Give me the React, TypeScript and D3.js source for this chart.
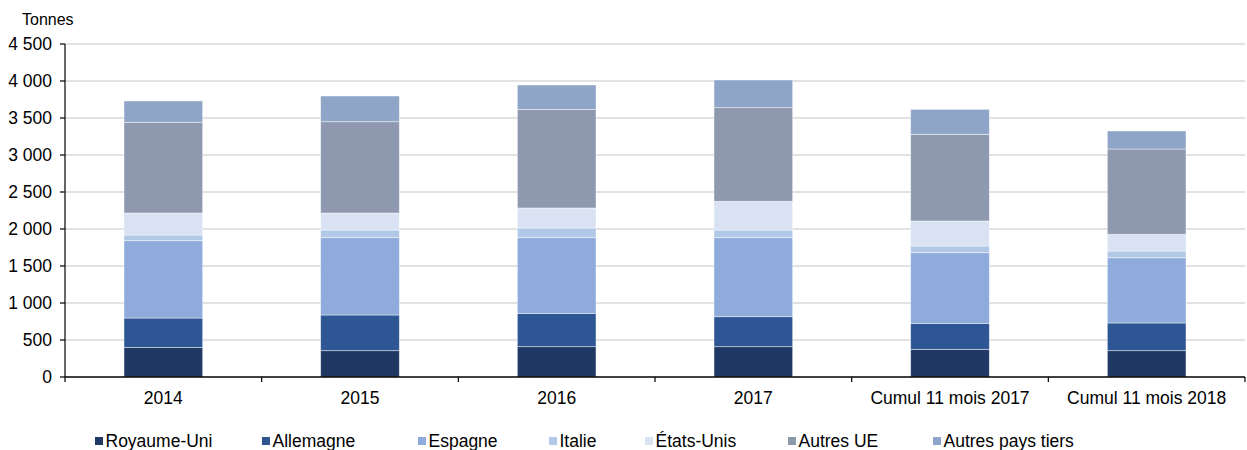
import React from "react";
import * as d3 from "d3";

// Export volumes by destination, in tonnes
const categories = ["2014", "2015", "2016", "2017", "Cumul 11 mois 2017", "Cumul 11 mois 2018"];
const seriesNames = ["Royaume-Uni", "Allemagne", "Espagne", "Italie", "États-Unis", "Autres UE", "Autres pays tiers"];
const royaumeUni = [400, 356, 410, 410, 374, 356];
const allemagne = [397, 482, 450, 405, 351, 374];
const espagne = [1045, 1045, 1023, 1068, 955, 882];
const italie = [77, 103, 131, 103, 90, 91];
const etatsUnis = [297, 230, 270, 388, 338, 225];
const autresUE = [1226, 1234, 1333, 1266, 1171, 1153];
const autresPaysTiers = [288, 347, 329, 374, 338, 243];
const yTicks = [0, 500, 1000, 1500, 2000, 2500, 3000, 3500, 4000, 4500];
const colors = ["#203864", "#2E5594", "#8EABDC", "#B2C8E7", "#D9E2F3", "#8E99B0", "#8EA5C8"];
const legendX = [95, 262, 418, 549, 645, 788, 933];

const W = 1247;
const H = 450;
const left = 65;
const right = 1245;
const top = 44;
const bottom = 377;
const font = "'Liberation Sans', Arial, sans-serif";
const fs = 17.5;

export default function App() {
  const seriesValues = [royaumeUni, allemagne, espagne, italie, etatsUnis, autresUE, autresPaysTiers];
  const rows = categories.map((c, i) => {
    const r: Record<string, number | string> = { cat: c };
    seriesNames.forEach((s, k) => (r[s] = seriesValues[k][i]));
    return r;
  });
  const stacked = d3.stack<any>().keys(seriesNames)(rows as any);

  const x = d3.scaleBand<string>().domain(categories).range([left, right]).paddingInner(0.6).paddingOuter(0.3);
  const xOuter = d3.scaleBand<string>().domain(categories).range([left, right]);
  const y = d3.scaleLinear().domain([0, 4500]).range([bottom, top]);
  const fmt = (v: number) => d3.format(",")(v).replace(/,/g, " ");

  return (
    <svg width={W} height={H} style={{ position: "absolute", left: 0, top: 0, background: "#fff" }} fontFamily={font}>
      <text x={22} y={25} fontSize={16} fill="#000">Tonnes</text>

      {yTicks.filter((t) => t > 0).map((t) => (
        <line key={"g" + t} x1={left} x2={right} y1={y(t)} y2={y(t)} stroke="#d9d9d9" strokeWidth={1.5} />
      ))}

      {stacked.map((layer, k) => (
        <g key={layer.key} fill={colors[k]}>
          {layer.map((d, i) => (
            <rect
              key={i}
              x={x(categories[i])}
              width={x.bandwidth()}
              y={y(d[1])}
              height={y(d[0]) - y(d[1])}
              stroke="#ffffff"
              strokeOpacity={0.55}
              strokeWidth={0.8}
            />
          ))}
        </g>
      ))}

      {/* y axis */}
      <line x1={left} x2={left} y1={top} y2={bottom} stroke="#000" strokeWidth={1.2} />
      {yTicks.map((t) => (
        <g key={"t" + t}>
          <line x1={left - 5} x2={left} y1={y(t)} y2={y(t)} stroke="#000" strokeWidth={1.2} />
          <text x={52} y={y(t) + 6} textAnchor="end" fontSize={fs} fill="#000">{fmt(t)}</text>
        </g>
      ))}

      {/* x axis */}
      <line x1={left} x2={right} y1={bottom} y2={bottom} stroke="#000" strokeWidth={1.5} />
      {categories.map((c) => (
        <line key={"xt" + c} x1={(xOuter(c) as number) + xOuter.bandwidth()} x2={(xOuter(c) as number) + xOuter.bandwidth()} y1={bottom} y2={bottom + 5} stroke="#000" strokeWidth={1.2} />
      ))}
      <line x1={left} x2={left} y1={bottom} y2={bottom + 5} stroke="#000" strokeWidth={1.2} />
      {categories.map((c) => (
        <text key={"xl" + c} x={(xOuter(c) as number) + xOuter.bandwidth() / 2} y={403.5} textAnchor="middle" fontSize={fs} fill="#000">{c}</text>
      ))}

      {/* legend */}
      {seriesNames.map((s, k) => (
        <g key={"l" + s}>
          <rect x={legendX[k]} y={437} width={8} height={8} fill={colors[k]} />
          <text x={legendX[k] + 10.5} y={447} fontSize={fs} fill="#000">{s}</text>
        </g>
      ))}
    </svg>
  );
}
